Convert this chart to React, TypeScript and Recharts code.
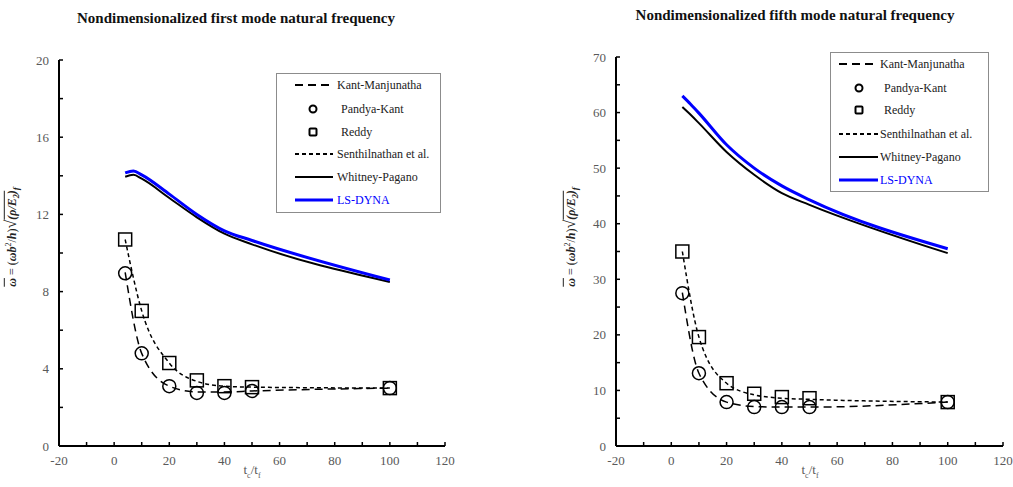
import React from "react";
import { ComposedChart, Line, Scatter, XAxis, YAxis } from "recharts";

// tc/tf values where the reference methods were evaluated
const RATIOS = [4, 10, 20, 30, 40, 50, 100];
// solid curves carry one extra point near the start (small hump)
const RATIOS_FINE = [4, 7, 10, 20, 30, 40, 50, 100];

// first mode
const kantManjunatha1 = [9.0, 4.8, 3.1, 2.8, 2.8, 2.85, 3.0];
const pandyaKant1 = [8.95, 4.8, 3.1, 2.75, 2.75, 2.85, 3.0];
const reddy1 = [10.7, 7.0, 4.3, 3.4, 3.1, 3.05, 3.0];
const senthilnathan1 = [10.7, 7.0, 4.3, 3.35, 3.1, 3.05, 3.0];
const whitneyPagano1 = [13.95, 14.05, 13.85, 12.85, 11.85, 11.0, 10.45, 8.5];
const lsDyna1 = [14.15, 14.25, 14.05, 13.05, 12.0, 11.15, 10.65, 8.6];

// fifth mode
const kantManjunatha5 = [27.6, 13.1, 7.9, 7.1, 7.0, 7.0, 7.9];
const pandyaKant5 = [27.5, 13.1, 7.9, 7.0, 7.0, 7.0, 7.9];
const reddy5 = [35.0, 19.6, 11.3, 9.4, 8.8, 8.6, 7.9];
const senthilnathan5 = [35.0, 19.6, 11.3, 9.2, 8.6, 8.4, 7.9];
const whitneyPagano5 = [61.0, 59.6, 58.1, 52.9, 48.8, 45.5, 43.4, 34.7];
const lsDyna5 = [63.0, 61.5, 59.9, 54.2, 50.0, 46.8, 44.3, 35.5];

const X_TICKS = [-20, -10, 0, 10, 20, 30, 40, 50, 60, 70, 80, 90, 100, 110, 120];
const Y1_TICKS = [0, 2, 4, 6, 8, 10, 12, 14, 16, 18, 20];
const Y5_TICKS = [0, 5, 10, 15, 20, 25, 30, 35, 40, 45, 50, 55, 60, 65, 70];

const LEGEND_NAMES = ["Kant-Manjunatha", "Pandya-Kant", "Reddy", "Senthilnathan et al.", "Whitney-Pagano", "LS-DYNA"];

const FONT = "'Liberation Serif', 'Times New Roman', serif";
const BLUE = "#0000ff";
const TICK_GREY = "#595959";

const pts = (xs: number[], ys: number[]) => xs.map((x, i) => ({ x, y: ys[i] }));

function XTick(props: any) {
  const { x, y, payload } = props;
  const axisY = y - 10;
  const v = payload.value;
  return (
    <g>
      <line x1={x} x2={x} y1={axisY} y2={axisY - 4} stroke="#000" strokeWidth={1.5} />
      {v % 20 === 0 && (
        <text x={x} y={y} dy="0.71em" textAnchor="middle" fill={TICK_GREY}
          style={{ fontFamily: FONT, fontSize: 13 }}>
          {v}
        </text>
      )}
    </g>
  );
}

function makeYTick(major: number) {
  return function YTick(props: any) {
    const { x, y, payload } = props;
    const axisX = x + 10;
    const v = payload.value;
    return (
      <g>
        <line x1={axisX} x2={axisX + 4} y1={y} y2={y} stroke="#000" strokeWidth={1.5} />
        {v % major === 0 && (
          <text x={x} y={y} dy="0.355em" textAnchor="end" fill={TICK_GREY}
            style={{ fontFamily: FONT, fontSize: 13 }}>
            {v}
          </text>
        )}
      </g>
    );
  };
}

const circleShape = (p: any) => (
  <circle cx={p.cx} cy={p.cy} r={6.5} fill="none" stroke="#000" strokeWidth={1.5} />
);
const squareShape = (p: any) => (
  <rect x={p.cx - 6.5} y={p.cy - 6.5} width={13} height={13} fill="none" stroke="#000" strokeWidth={1.5} />
);

interface PanelProps {
  left: number;
  width: number;
  top: number;
  marginLeft: number;
  marginRight: number;
  yTicks: number[];
  yMajor: number;
  kant: number[];
  pandya: number[];
  reddy: number[];
  senthil: number[];
  whitney: number[];
  dyna: number[];
}

function Panel(p: PanelProps) {
  const YTick = makeYTick(p.yMajor);
  return (
    <div style={{ position: "absolute", left: p.left, top: 0 }}>
      <ComposedChart
        width={p.width}
        height={487}
        margin={{ top: p.top, right: p.marginRight, bottom: 11, left: p.marginLeft }}
      >
        <XAxis
          dataKey="x"
          type="number"
          domain={[-20, 120]}
          ticks={X_TICKS}
          interval={0}
          tickSize={0}
          tickMargin={10}
          tickLine={false}
          tick={<XTick />}
          height={30}
          axisLine={{ stroke: "#000", strokeWidth: 2 }}
          allowDataOverflow
        />
        <YAxis
          type="number"
          domain={[p.yTicks[0], p.yTicks[p.yTicks.length - 1]]}
          ticks={p.yTicks}
          interval={0}
          tickSize={0}
          tickMargin={10}
          tickLine={false}
          tick={<YTick />}
          width={40}
          axisLine={{ stroke: "#000", strokeWidth: 2 }}
        />
        <Line data={pts(RATIOS, p.kant)} dataKey="y" type="monotone" stroke="#000" strokeWidth={1.5}
          strokeDasharray="8 5" dot={false} activeDot={false} isAnimationActive={false} />
        <Line data={pts(RATIOS, p.senthil)} dataKey="y" type="monotone" stroke="#000" strokeWidth={1.5}
          strokeDasharray="4 3" dot={false} activeDot={false} isAnimationActive={false} />
        <Line data={pts(RATIOS_FINE, p.whitney)} dataKey="y" type="monotone" stroke="#000" strokeWidth={2}
          dot={false} activeDot={false} isAnimationActive={false} />
        <Line data={pts(RATIOS_FINE, p.dyna)} dataKey="y" type="monotone" stroke={BLUE} strokeWidth={3}
          dot={false} activeDot={false} isAnimationActive={false} />
        <Scatter data={pts(RATIOS, p.pandya)} dataKey="y" shape={circleShape} isAnimationActive={false} />
        <Scatter data={pts(RATIOS, p.reddy)} dataKey="y" shape={squareShape} isAnimationActive={false} />
      </ComposedChart>
    </div>
  );
}

interface LegendBoxProps {
  left: number;
  top: number;
  width: number;
  height: number;
  lineX1: number;
  lineX2: number;
  markX: number;
  textX: number;
  rows: number[];
}

function LegendBox(b: LegendBoxProps) {
  return (
    <svg style={{ position: "absolute", left: b.left, top: b.top }} width={b.width} height={b.height}>
      <rect x={0.5} y={0.5} width={b.width - 1} height={b.height - 1} fill="#fff" stroke="#8c8c8c" strokeWidth={1} />
      <line x1={b.lineX1} x2={b.lineX2} y1={b.rows[0]} y2={b.rows[0]} stroke="#000" strokeWidth={2} strokeDasharray="8 5" />
      <circle cx={b.markX} cy={b.rows[1]} r={3.5} fill="none" stroke="#000" strokeWidth={2} />
      <rect x={b.markX - 3.5} y={b.rows[2] - 3.5} width={7} height={7} rx={1} fill="none" stroke="#000" strokeWidth={2} />
      <line x1={b.lineX1} x2={b.lineX2} y1={b.rows[3]} y2={b.rows[3]} stroke="#000" strokeWidth={2} strokeDasharray="4 3" />
      <line x1={b.lineX1} x2={b.lineX2} y1={b.rows[4]} y2={b.rows[4]} stroke="#000" strokeWidth={2} />
      <line x1={b.lineX1} x2={b.lineX2} y1={b.rows[5]} y2={b.rows[5]} stroke={BLUE} strokeWidth={3} />
      {LEGEND_NAMES.map((name, i) => (
        <text
          key={name}
          x={i === 1 || i === 2 ? b.textX + 4 : b.textX}
          y={b.rows[i]}
          dy="0.35em"
          fill={i === 5 ? BLUE : "#222"}
          style={{ fontFamily: FONT, fontSize: 12 }}
        >
          {name}
        </text>
      ))}
    </svg>
  );
}

const bi: React.CSSProperties = { fontStyle: "italic", fontWeight: "bold" };

function YLabel({ cx, cy }: { cx: number; cy: number }) {
  return (
    <div
      style={{
        position: "absolute",
        left: cx,
        top: cy,
        transform: "translate(-50%, -50%) rotate(-90deg)",
        whiteSpace: "nowrap",
        fontFamily: FONT,
        fontSize: 12,
        color: "#222",
        lineHeight: "16px",
      }}
    >
      <span style={{ ...bi, textDecoration: "overline" }}>ω</span> = (<span style={bi}>ωb</span>
      <sup style={{ fontSize: 8 }}>2</sup>/<span style={bi}>h</span>)
      <span style={{ fontSize: 16 }}>√</span>
      <span style={{ ...bi, borderTop: "1px solid #222" }}>
        (ρ/E<sub style={{ fontSize: 8 }}>2</sub>)
      </span>
      <sub style={{ ...bi, fontSize: 9 }}>f</sub>
    </div>
  );
}

function XLabel({ cx, cy }: { cx: number; cy: number }) {
  return (
    <div
      style={{
        position: "absolute",
        left: cx,
        top: cy,
        transform: "translate(-50%, -50%)",
        whiteSpace: "nowrap",
        fontFamily: FONT,
        fontSize: 13,
        color: TICK_GREY,
      }}
    >
      t<sub style={{ fontSize: 8 }}>c</sub>/t<sub style={{ fontSize: 8 }}>f</sub>
    </div>
  );
}

function Title({ cx, cy, text }: { cx: number; cy: number; text: string }) {
  return (
    <div
      style={{
        position: "absolute",
        left: cx,
        top: cy,
        transform: "translate(-50%, -50%)",
        whiteSpace: "nowrap",
        fontFamily: FONT,
        fontSize: 15,
        fontWeight: "bold",
        color: "#111",
      }}
    >
      {text}
    </div>
  );
}

export default function App() {
  return (
    <div style={{ position: "absolute", left: 0, top: 0, width: 1013, height: 487, background: "#fff", overflow: "hidden" }}>
      <Panel
        left={0}
        width={470}
        top={60}
        marginLeft={19}
        marginRight={25}
        yTicks={Y1_TICKS}
        yMajor={4}
        kant={kantManjunatha1}
        pandya={pandyaKant1}
        reddy={reddy1}
        senthil={senthilnathan1}
        whitney={whitneyPagano1}
        dyna={lsDyna1}
      />
      <Panel
        left={560}
        width={453}
        top={57}
        marginLeft={16}
        marginRight={10}
        yTicks={Y5_TICKS}
        yMajor={10}
        kant={kantManjunatha5}
        pandya={pandyaKant5}
        reddy={reddy5}
        senthil={senthilnathan5}
        whitney={whitneyPagano5}
        dyna={lsDyna5}
      />
      <Title cx={236} cy={18} text="Nondimensionalized first mode natural frequency" />
      <Title cx={795} cy={15} text="Nondimensionalized fifth mode natural frequency" />
      <LegendBox left={276} top={73} width={165} height={140} lineX1={19} lineX2={57} markX={37} textX={61}
        rows={[12, 36, 59, 81, 104, 127]} />
      <LegendBox left={830} top={52} width={159} height={140} lineX1={9} lineX2={48} markX={29} textX={50}
        rows={[12, 36, 58, 82, 105, 128]} />
      <YLabel cx={13} cy={237} />
      <YLabel cx={572} cy={237} />
      <XLabel cx={252} cy={471} />
      <XLabel cx={810} cy={471} />
    </div>
  );
}
